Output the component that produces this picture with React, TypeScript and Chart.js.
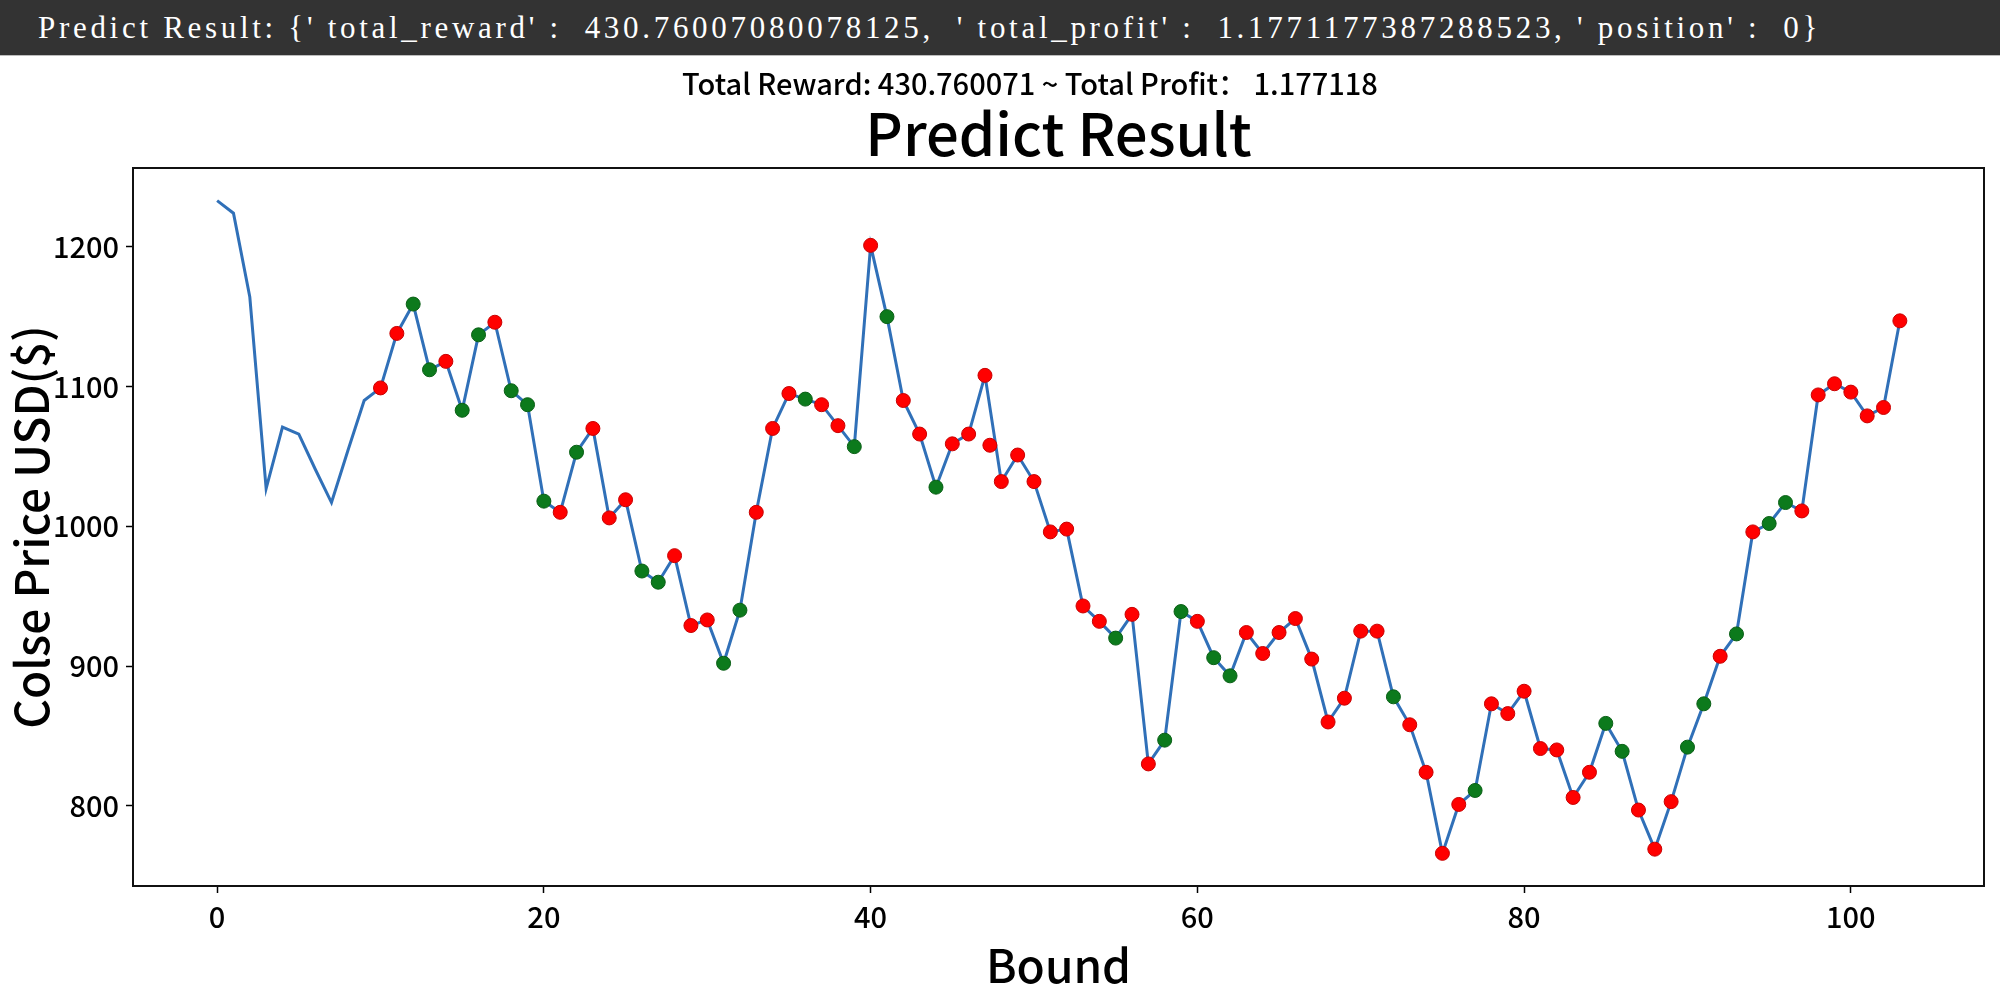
import React, { useEffect, useRef } from "react";
import { Chart, registerables } from "chart.js";

Chart.register(...registerables);

// ---- data ----
const closePrices: number[] = [
  1233, 1224, 1164, 1027, 1071, 1066, 1041, 1017, 1054, 1090,
  1099, 1138, 1159, 1112, 1118, 1083, 1137, 1146, 1097, 1087,
  1018, 1010, 1053, 1070, 1006, 1019, 968, 960, 979, 929,
  933, 902, 940, 1010, 1070, 1095, 1091, 1087, 1072, 1057,
  1201, 1150, 1090, 1066, 1028, 1059, 1066, 1108, 1032, 1051,
  1032, 996, 998, 943, 932, 920, 937, 830, 847, 939,
  932, 906, 893, 924, 909, 924, 934, 905, 860, 877,
  925, 925, 878, 858, 824, 766, 801, 811, 873, 866,
  882, 841, 840, 806, 824, 859, 839, 797, 769, 803,
  842, 873, 907, 923, 996, 1002, 1017, 1011, 1094, 1102,
  1096, 1079, 1085, 1147,
];

// ticks marked green (long) and red (short)
const greenTicks: number[] = [
  12, 13, 15, 16, 18, 19, 20, 22, 26, 27, 31, 32, 36, 39, 41, 44,
  55, 58, 59, 61, 62, 72, 77, 85, 86, 90, 91, 93, 95, 96,
];
const redTicks: number[] = [
  10, 11, 14, 17, 21, 23, 24, 25, 28, 29, 30, 33, 34, 35, 37, 38, 40,
  42, 43, 45, 46, 47, 48, 49, 50, 51, 52, 53, 54, 56, 57, 60, 63, 64,
  65, 66, 67, 68, 69, 70, 71, 73, 74, 75, 76, 78, 79, 80, 81, 82, 83,
  84, 87, 88, 89, 92, 94, 97, 98, 99, 100, 101, 102, 103,
];
// one red marker in the reference sits off the index grid
const extraRedX: number[] = [47.3];
const extraRedY: number[] = [1058];

const xTickValues: number[] = [0, 20, 40, 60, 80, 100];
const yTickValues: number[] = [800, 900, 1000, 1100, 1200];

const bannerText =
  "Predict Result: {' total_reward' :  430.76007080078125,  ' total_profit' :  1.1771177387288523, ' position' :  0}";
const rewardLine = "Total Reward: 430.760071 ~ Total Profit： 1.177118";
const chartTitle = "Predict Result";
const xLabel = "Bound";
const yLabel = "Colse Price USD($)";

const FONT = "'Noto Sans CJK SC', 'Noto Sans', sans-serif";

export default function App() {
  const canvasRef = useRef<HTMLCanvasElement | null>(null);

  useEffect(() => {
    const canvas = canvasRef.current;
    if (!canvas) return;

    const n = closePrices.length;
    const pMin = Math.min(...closePrices);
    const pMax = Math.max(...closePrices);
    const pr = pMax - pMin;
    const yMin = pMin - 0.05 * pr;
    const yMax = pMax + 0.05 * pr;
    const xMin = -0.05 * (n - 1);
    const xMax = (n - 1) * 1.05;

    const lineData = closePrices.map((v, i) => ({ x: i, y: v }));
    const greenData = greenTicks.map((i) => ({ x: i, y: closePrices[i] }));
    const redData = redTicks
      .map((i) => ({ x: i, y: closePrices[i] }))
      .concat(extraRedX.map((x, k) => ({ x, y: extraRedY[k] })));

    const framePlugin = {
      id: "frameAndReward",
      afterDraw(chart: any) {
        const { ctx, chartArea: a } = chart;
        ctx.save();
        ctx.strokeStyle = "#111";
        ctx.lineWidth = 2;
        ctx.strokeRect(a.left, a.top, a.right - a.left, a.bottom - a.top);
        ctx.fillStyle = "#000";
        ctx.font = `500 29px ${FONT}`;
        ctx.textAlign = "center";
        ctx.textBaseline = "alphabetic";
        ctx.fillText(rewardLine, 1030, 37);
        ctx.restore();
      },
    };

    const tickFont = { family: FONT, size: 29, weight: "500" };

    const chart = new Chart(canvas, {
      type: "scatter",
      data: {
        datasets: [
          {
            label: "price",
            data: lineData,
            showLine: true,
            borderColor: "#3070b8",
            borderWidth: 3,
            pointRadius: 0,
            tension: 0,
            order: 3,
          } as any,
          {
            label: "green",
            data: greenData,
            showLine: false,
            pointRadius: 7,
            pointBackgroundColor: "#0c7a1c",
            pointBorderColor: "#0a5f16",
            pointBorderWidth: 1,
            order: 1,
          } as any,
          {
            label: "red",
            data: redData,
            showLine: false,
            pointRadius: 7,
            pointBackgroundColor: "#ff0000",
            pointBorderColor: "#c80000",
            pointBorderWidth: 1,
            order: 2,
          } as any,
        ],
      },
      options: {
        responsive: false,
        animation: false,
        devicePixelRatio: 1,
        layout: { padding: { top: 0, left: 0, right: 16, bottom: 0 } },
        plugins: {
          legend: { display: false },
          tooltip: { enabled: false },
          title: {
            display: true,
            text: chartTitle,
            color: "#000",
            fullSize: false,
            font: { family: FONT, size: 58, weight: "500", lineHeight: 1 },
            padding: { top: 47, bottom: 5 },
          },
        },
        scales: {
          x: {
            type: "linear",
            min: xMin,
            max: xMax,
            afterBuildTicks: (s: any) => {
              s.ticks = xTickValues.map((v) => ({ value: v }));
            },
            afterFit: (s: any) => {
              s.height = 105;
            },
            grid: {
              display: true,
              drawOnChartArea: false,
              drawTicks: true,
              tickLength: 7,
              tickWidth: 1.5,
              tickColor: "#000",
            },
            border: { display: false },
            ticks: {
              font: tickFont,
              color: "#000",
              padding: 7,
              maxRotation: 0,
              autoSkip: false,
              callback: (v: any) => String(v),
            },
            title: {
              display: true,
              text: xLabel,
              color: "#000",
              font: { family: FONT, size: 46, weight: "500", lineHeight: 1 },
              padding: { top: 0, bottom: 2 },
            },
          },
          y: {
            type: "linear",
            min: yMin,
            max: yMax,
            afterBuildTicks: (s: any) => {
              s.ticks = yTickValues.map((v) => ({ value: v }));
            },
            afterFit: (s: any) => {
              s.width = 133;
            },
            grid: {
              display: true,
              drawOnChartArea: false,
              drawTicks: true,
              tickLength: 7,
              tickWidth: 1.5,
              tickColor: "#000",
            },
            border: { display: false },
            ticks: {
              font: tickFont,
              color: "#000",
              padding: 7,
              autoSkip: false,
              callback: (v: any) => String(v),
            },
            title: {
              display: true,
              text: yLabel,
              color: "#000",
              font: { family: FONT, size: 46, weight: "500", lineHeight: 1 },
              padding: { top: 9, bottom: 0 },
            },
          },
        },
      } as any,
      plugins: [framePlugin],
    });

    if ((document as any).fonts && (document as any).fonts.ready) {
      (document as any).fonts.ready.then(() => {
        try {
          chart.update();
        } catch (e) {}
      });
    }

    return () => {
      chart.destroy();
    };
  }, []);

  return (
    <div
      style={{
        position: "fixed",
        left: 0,
        top: 0,
        width: 2000,
        height: 991,
        background: "#fff",
        overflow: "hidden",
      }}
    >
      <div
        style={{
          position: "absolute",
          left: 0,
          top: 0,
          width: 2000,
          height: 56,
          background: "#333333",
          borderBottom: "1px solid #bdbdbd",
          color: "#fff",
          fontFamily: "'Liberation Serif', 'DejaVu Serif', serif",
          fontSize: 31,
          lineHeight: "56px",
          whiteSpace: "pre",
          letterSpacing: "3.7px",
          paddingLeft: 38,
          boxSizing: "border-box",
        }}
      >
        {bannerText}
      </div>
      <canvas
        ref={canvasRef}
        width={2000}
        height={933}
        style={{ position: "absolute", left: 0, top: 58, width: 2000, height: 933 }}
      />
    </div>
  );
}
